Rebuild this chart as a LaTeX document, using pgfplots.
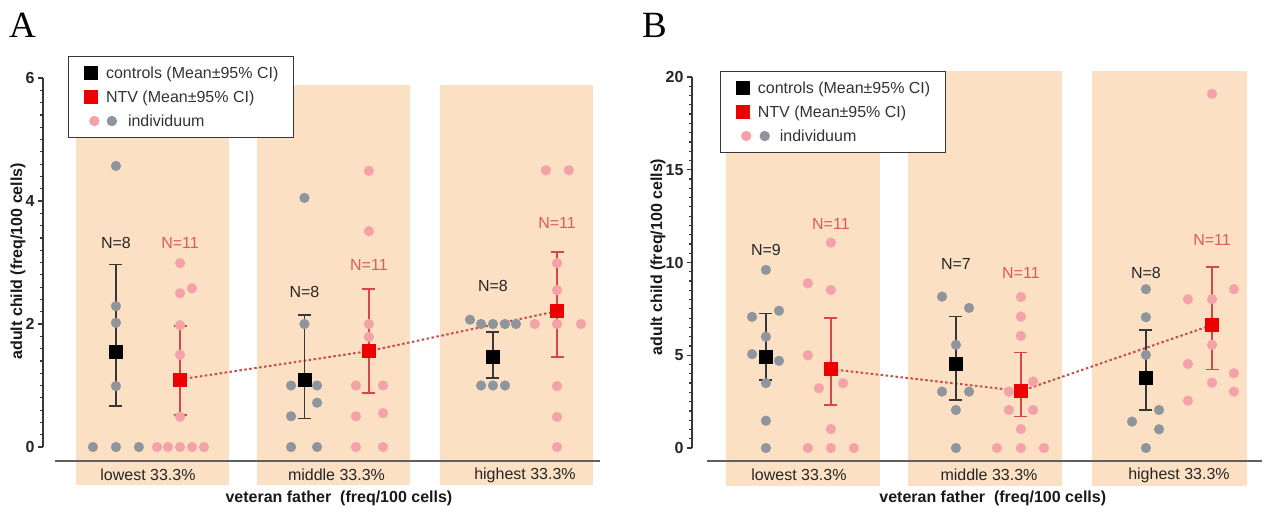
\documentclass[border=0pt]{standalone}
\usepackage{pgfplots}
\pgfplotsset{compat=1.18}
\usepackage{fontspec}
\setmainfont{Liberation Sans}
\newfontfamily\serifpanel{Liberation Serif}

\definecolor{bandc}{RGB}{252,224,196}
\definecolor{dotgray}{RGB}{143,149,157}
\definecolor{dotpink}{RGB}{243,162,168}
\definecolor{meanred}{RGB}{238,0,0}
\definecolor{errred}{RGB}{214,72,72}
\definecolor{lnred}{RGB}{200,75,75}
\definecolor{ntext}{RGB}{224,90,90}
\definecolor{axgray}{RGB}{55,55,55}
\definecolor{basegray}{RGB}{95,95,95}

\newcommand{\fs}{\fontsize{16}{16}\selectfont}

\pgfplotsset{
  panel/.style={
    scale only axis, clip=false,
    axis y line*=left, axis x line=none,
    axis line style={-, line width=1.5pt, color=axgray},
    xtick=\empty,
    tick align=outside,
    major tick length=5pt, minor tick length=3pt,
    tick style={line width=1.2pt, color=axgray},
    yticklabel style={font=\fs\bfseries, text=black!85},
    /pgf/number format/assume math mode=true,
    legend cell align=left,
    legend style={anchor=north west, draw=axgray, line width=1.3pt, fill=white,
      font=\fs, text=black!80, inner xsep=15pt, inner ysep=8.5pt,
      row sep=8pt, column sep=8pt,
      nodes={inner sep=0pt, text height=13pt, text depth=3pt}},
  },
  bandfill/.style={fill=bandc, draw=none, mark=none, forget plot},
  gdots/.style={dotgray, only marks, mark=*, mark size=5pt, mark options={draw=dotgray, fill=dotgray, line width=0.1pt}, forget plot},
  pdots/.style={dotpink, only marks, mark=*, mark size=5pt, mark options={draw=dotpink, fill=dotpink, line width=0.1pt}, forget plot},
  ctlmean/.style={black, only marks, mark=square*, mark size=6.5pt, mark options={fill=black, draw=black},
    forget plot,
    error bars/.cd, y dir=both, y explicit,
    error bar style={line width=1.5pt, color=axgray},
    error mark options={rotate=90, mark size=6.5pt, line width=1.5pt, color=axgray}},
  ntvmean/.style={meanred, only marks, mark=square*, mark size=6.5pt, mark options={fill=meanred, draw=meanred},
    forget plot,
    error bars/.cd, y dir=both, y explicit,
    error bar style={line width=1.5pt, color=errred},
    error mark options={rotate=90, mark size=6.5pt, line width=1.5pt, color=errred}},
  trend/.style={lnred, dash pattern=on 2.5pt off 2.5pt, line width=2pt, mark=none, forget plot},
  baseline/.style={basegray, line width=2pt, mark=none, forget plot},
}

\begin{document}
\begin{tikzpicture}
\useasboundingbox (0pt,0pt) rectangle (1268pt,512pt);

% ================= Panel A =================
\begin{axis}[panel, at={(43pt,65pt)}, anchor=south west, width=557pt, height=369pt,
  xmin=-0.557, xmax=2.398, ymin=0, ymax=6, ytick={0,2,4,6}, minor y tick num=9,
  legend style={at={(axis cs:-0.424,6.36)}}]
\addlegendimage{legend image code/.code={\fill[black] (0pt,-6.5pt) rectangle (13pt,6.5pt);}}
\addlegendimage{legend image code/.code={\fill[meanred] (0pt,-6.5pt) rectangle (13pt,6.5pt);}}
\addlegendimage{legend image code/.code={\path[draw=none,fill=none] (0pt,-6.5pt) rectangle (13pt,6.5pt); \fill[dotpink,overlay] (10pt,0pt) circle[radius=4.5pt]; \fill[dotgray,overlay] (27.5pt,0pt) circle[radius=4.5pt];}}
\legend{controls (Mean±95\% CI), NTV (Mean±95\% CI), \hspace*{22pt}individuum}

\addplot[bandfill] coordinates {(-0.382,-0.618) (0.430,-0.618) (0.430,5.886) (-0.382,5.886)} -- cycle;
\addplot[bandfill] coordinates {(0.578,-0.618) (1.390,-0.618) (1.390,5.886) (0.578,5.886)} -- cycle;
\addplot[bandfill] coordinates {(1.549,-0.618) (2.361,-0.618) (2.361,5.886) (1.549,5.886)} -- cycle;
\addplot[baseline] coordinates {(-0.493,-0.228) (2.398,-0.228)};
\addplot[trend] coordinates {(0.17,1.10) (1.172,1.56) (2.17,2.21)};

% controls individuals
\addplot[gdots] coordinates {
 (-0.17,4.57) (-0.17,2.29) (-0.17,2.02) (-0.17,0.99) (-0.292,0) (-0.17,0) (-0.048,0)
 (0.83,4.05) (0.83,2.0) (0.759,1.0) (0.897,1.0) (0.897,0.72) (0.759,0.5) (0.759,0) (0.897,0)
 (1.708,2.07) (1.767,2.0) (1.830,2.0) (1.894,2.0) (1.952,2.0) (1.767,1.0) (1.830,1.0) (1.894,1.0)
};
% NTV individuals
\addplot[pdots] coordinates {
 (0.17,2.99) (0.17,2.5) (0.233,2.58) (0.17,1.98) (0.17,1.5) (0.17,0.49)
 (0.048,0) (0.106,0) (0.17,0) (0.234,0) (0.297,0)
 (1.172,4.49) (1.172,3.51) (1.172,2.0) (1.172,1.79) (1.103,1.0) (1.247,1.0) (1.103,0.5) (1.247,0.55) (1.103,0) (1.247,0)
 (2.111,4.5) (2.233,4.5) (2.17,2.99) (2.17,2.55) (2.052,2.0) (2.17,2.0) (2.297,2.0) (2.17,0.99) (2.17,0.49) (2.17,0)
};
\addplot[ctlmean] coordinates {
 (-0.17,1.55) += (0,1.42) -= (0,0.88)
 (0.83,1.10) += (0,1.05) -= (0,0.64)
 (1.83,1.47) += (0,0.40) -= (0,0.35)
};
\addplot[ntvmean] coordinates {
 (0.17,1.10) += (0,0.87) -= (0,0.58)
 (1.172,1.56) += (0,1.01) -= (0,0.68)
 (2.17,2.21) += (0,0.96) -= (0,0.75)
};

\node[font=\fs, text=black!85] at (axis cs:-0.17,3.32) {N=8};
\node[font=\fs, text=ntext] at (axis cs:0.17,3.32) {N=11};
\node[font=\fs, text=black!85] at (axis cs:0.83,2.52) {N=8};
\node[font=\fs, text=ntext] at (axis cs:1.172,2.96) {N=11};
\node[font=\fs, text=black!85] at (axis cs:1.83,2.62) {N=8};
\node[font=\fs, text=ntext] at (axis cs:2.17,3.64) {N=11};

\node[font=\fs, text=black!85] at (axis cs:0,-0.455) {lowest 33.3\%};
\node[font=\fs, text=black!85] at (axis cs:1,-0.455) {middle 33.3\%};
\node[font=\fs, text=black!85] at (axis cs:2,-0.455) {highest 33.3\%};
\node[font=\fs\bfseries, text=black!90] at (axis cs:1.013,-0.83) {veteran father\ \ (freq/100 cells)};
\node[font=\fs\bfseries, text=black!90, rotate=90] at (axis cs:-0.69,3.02) {adult child (freq/100 cells)};
\end{axis}

% ================= Panel B =================
\begin{axis}[panel, at={(692pt,64pt)}, anchor=south west, width=570pt, height=371pt,
  xmin=-0.563, xmax=2.437, ymin=0, ymax=20, ytick={0,5,10,15,20}, minor y tick num=9,
  legend style={at={(axis cs:-0.416,20.33)}}]
\addlegendimage{legend image code/.code={\fill[black] (0pt,-6.5pt) rectangle (13pt,6.5pt);}}
\addlegendimage{legend image code/.code={\fill[meanred] (0pt,-6.5pt) rectangle (13pt,6.5pt);}}
\addlegendimage{legend image code/.code={\path[draw=none,fill=none] (0pt,-6.5pt) rectangle (13pt,6.5pt); \fill[dotpink,overlay] (10pt,0pt) circle[radius=4.5pt]; \fill[dotgray,overlay] (28.5pt,0pt) circle[radius=4.5pt];}}
\legend{controls (Mean±95\% CI), NTV (Mean±95\% CI), \hspace*{22pt}individuum}

\addplot[bandfill] coordinates {(-0.384,-2.05) (0.426,-2.05) (0.426,20.31) (-0.384,20.31)} -- cycle;
\addplot[bandfill] coordinates {(0.574,-2.05) (1.384,-2.05) (1.384,20.31) (0.574,20.31)} -- cycle;
\addplot[bandfill] coordinates {(1.542,-2.05) (2.358,-2.05) (2.358,20.31) (1.542,20.31)} -- cycle;
\addplot[baseline] coordinates {(-0.484,-0.70) (2.437,-0.70)};
\addplot[trend] coordinates {(0.168,4.25) (1.168,3.07) (2.174,6.63)};

\addplot[gdots] coordinates {
 (-0.174,9.6) (-0.247,7.07) (-0.105,7.4) (-0.174,6.0) (-0.247,5.06) (-0.105,4.7) (-0.174,3.5) (-0.174,1.47) (-0.174,0)
 (0.753,8.16) (0.895,7.55) (0.826,5.56) (0.753,3.04) (0.895,3.04) (0.826,2.05) (0.826,0)
 (1.826,8.56) (1.826,7.05) (1.826,5.02) (1.895,2.05) (1.753,1.42) (1.895,1.01) (1.826,0)
};
\addplot[pdots] coordinates {
 (0.168,11.07) (0.047,8.88) (0.168,8.52) (0.047,5.0) (0.105,3.22) (0.232,3.49) (0.168,1.02)
 (0.047,0) (0.168,0) (0.289,0)
 (1.168,8.14) (1.168,7.08) (1.168,6.04) (1.232,3.58) (1.105,3.04) (1.105,2.05) (1.232,2.05) (1.168,1.02)
 (1.042,0) (1.168,0) (1.289,0)
 (2.174,19.09) (2.289,8.56) (2.047,8.02) (2.174,8.02) (2.174,5.56) (2.047,4.53) (2.289,4.03) (2.174,3.52) (2.289,3.04) (2.047,2.55)
};
\addplot[ctlmean] coordinates {
 (-0.174,4.92) += (0,2.34) -= (0,1.25)
 (0.826,4.53) += (0,2.55) -= (0,1.94)
 (1.826,3.81) += (0,2.55) -= (0,1.76)
};
\addplot[ntvmean] coordinates {
 (0.168,4.25) += (0,2.75) -= (0,1.93)
 (1.168,3.07) += (0,2.07) -= (0,1.38)
 (2.174,6.63) += (0,3.12) -= (0,2.39)
};

\node[font=\fs, text=black!85] at (axis cs:-0.174,10.68) {N=9};
\node[font=\fs, text=ntext] at (axis cs:0.168,12.08) {N=11};
\node[font=\fs, text=black!85] at (axis cs:0.826,9.92) {N=7};
\node[font=\fs, text=ntext] at (axis cs:1.168,9.42) {N=11};
\node[font=\fs, text=black!85] at (axis cs:1.826,9.42) {N=8};
\node[font=\fs, text=ntext] at (axis cs:2.174,11.22) {N=11};

\node[font=\fs, text=black!85] at (axis cs:0,-1.46) {lowest 33.3\%};
\node[font=\fs, text=black!85] at (axis cs:1,-1.46) {middle 33.3\%};
\node[font=\fs, text=black!85] at (axis cs:2,-1.46) {highest 33.3\%};
\node[font=\fs\bfseries, text=black!90] at (axis cs:1.02,-2.7) {veteran father\ \ (freq/100 cells)};
\node[font=\fs\bfseries, text=black!90, rotate=90] at (axis cs:-0.742,10.3) {adult child (freq/100 cells)};
\end{axis}

\node[anchor=base west, inner sep=0pt, font=\serifpanel\fontsize{37}{37}\selectfont] at (9pt,474pt) {A};
\node[anchor=base west, inner sep=0pt, font=\serifpanel\fontsize{37}{37}\selectfont] at (642pt,474pt) {B};
\end{tikzpicture}
\end{document}
